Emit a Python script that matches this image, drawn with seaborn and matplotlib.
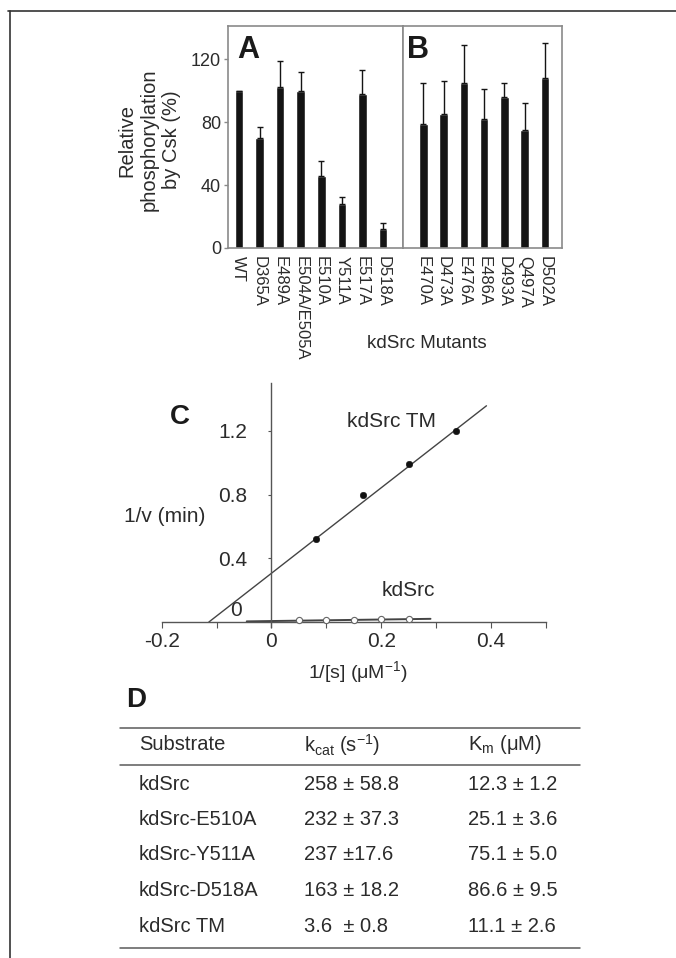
import matplotlib
matplotlib.use("Agg")
import matplotlib.pyplot as plt
import seaborn as sns
import pandas as pd

# Panel A: Csk phosphorylation of kdSrc mutants (%)
mutants_a = ['WT', 'D365A', 'E489A', 'E504A/E505A', 'E510A', 'Y511A', 'E517A', 'D518A']
phos_a = [100, 70, 102, 100, 46, 28, 98, 12]
err_a = [0, 7, 17, 12, 9, 4.5, 15, 4]

# Panel B
mutants_b = ['E470A', 'D473A', 'E476A', 'E486A', 'D493A', 'Q497A', 'D502A']
phos_b = [79, 85, 105, 82, 96, 75, 108]
err_b = [26, 21, 24, 19, 9, 17, 22]

# Panel C: double reciprocal plot
tm_inv_s = [0.082, 0.167, 0.251, 0.336]
tm_inv_v = [0.52, 0.80, 0.99, 1.20]
tm_fit_x = [-0.114, 0.392]
tm_fit_y = [0.0, 1.357]

wt_inv_s = [0.05, 0.10, 0.15, 0.20, 0.25]
wt_inv_v = [0.012, 0.013, 0.015, 0.016, 0.018]
wt_fit_x = [-0.045, 0.29]
wt_fit_y = [0.004, 0.02]

# Panel D: kinetic parameters
substrates = ['kdSrc', 'kdSrc-E510A', 'kdSrc-Y511A', 'kdSrc-D518A', 'kdSrc TM']
kcat = ['258 ± 58.8', '232 ± 37.3', '237 ±17.6', '163 ± 18.2', '3.6  ± 0.8']
km = ['12.3 ± 1.2', '25.1 ± 3.6', '75.1 ± 5.0', '86.6 ± 9.5', '11.1 ± 2.6']

sns.set_theme(style="ticks")
plt.rcParams['font.family'] = ['Liberation Sans', 'DejaVu Sans']
plt.rcParams['mathtext.fontset'] = 'custom'
plt.rcParams['mathtext.rm'] = 'Liberation Sans'
plt.rcParams['mathtext.it'] = 'Liberation Sans:italic'
plt.rcParams['mathtext.bf'] = 'Liberation Sans:bold'

ink = '#2b2b2b'
W, H = 676, 958
fig = plt.figure(figsize=(W / 100, H / 100), dpi=100)


def px_rect(left, top, right, bottom):
    # pixel box -> figure fraction
    return [left / W, 1 - bottom / H, (right - left) / W, (bottom - top) / H]


def bar_panel(ax, names, vals, errs, letter, xlim, letter_x):
    df = pd.DataFrame({'mutant': names, 'phos': vals})
    sns.barplot(data=df, x='mutant', y='phos', color='#141414', saturation=1,
                width=0.42, errorbar=None, ax=ax)
    ax.errorbar(range(len(names)), vals, yerr=[[0] * len(errs), errs], fmt='none',
                ecolor='#141414', elinewidth=1, capsize=2.4, capthick=1)
    ax.set_xlim(*xlim)
    ax.set_ylim(0, 141)
    ax.set_xlabel('')
    ax.set_ylabel('')
    ax.tick_params(axis='x', length=0, pad=6, labelsize=12, colors=ink)
    plt.setp(ax.get_xticklabels(), rotation=270, ha='center', va='top')
    for s in ax.spines.values():
        s.set_color('#8a8a8a')
        s.set_linewidth(1.2)
    ax.text(letter_x, 0.96, letter, transform=ax.transAxes, fontsize=22,
            fontweight='bold', va='top', ha='left', color='#1a1a1a')


ax_a = fig.add_axes(px_rect(228, 26, 403, 248))
ax_b = fig.add_axes(px_rect(403, 26, 562, 248))
bar_panel(ax_a, mutants_a, phos_a, err_a, 'A', (-0.53, 7.97), 0.05)
bar_panel(ax_b, mutants_b, phos_b, err_b, 'B', (-1.0, 6.85), 0.023)

ax_a.set_yticks([0, 40, 80, 120])
ax_a.tick_params(axis='y', length=3, width=1, color='#8a8a8a', labelsize=13,
                 pad=2, colors=ink)
ax_a.set_ylabel('Relative\nphosphorylation\nby Csk (%)', fontsize=14.5, color=ink)
ax_a.yaxis.set_label_coords(-0.27, 0.486)
ax_b.set_yticks([])

fig.text(427 / W, 1 - 343 / H, 'kdSrc Mutants', fontsize=13.5, ha='center',
         va='center', color=ink)

# Panel C
ax_c = fig.add_axes(px_rect(161.7, 383, 545.7, 626.8))
sns.lineplot(x=tm_fit_x, y=tm_fit_y, ax=ax_c, color='#444444', lw=1)
sns.lineplot(x=wt_fit_x, y=wt_fit_y, ax=ax_c, color='#444444', lw=1.4)
sns.scatterplot(x=tm_inv_s, y=tm_inv_v, ax=ax_c, color='#111111', s=22,
                edgecolor='#111111', zorder=3)
sns.scatterplot(x=wt_inv_s, y=wt_inv_v, ax=ax_c, facecolor='white',
                edgecolor='#666666', s=20, linewidth=0.8, zorder=3, clip_on=False)
ax_c.set_xlim(-0.2, 0.5)
ax_c.set_ylim(-0.03, 1.5)
ax_c.spines[['top', 'right']].set_visible(False)
ax_c.spines['left'].set_position(('data', 0))
ax_c.spines['bottom'].set_position(('data', 0))
for s in ('left', 'bottom'):
    ax_c.spines[s].set_color('#555555')
    ax_c.spines[s].set_linewidth(1)
ax_c.set_xticks([-0.2, 0, 0.2, 0.4])
ax_c.set_xticklabels(['-0.2', '0', '0.2', '0.4'])
ax_c.set_xticks([-0.1, 0.1, 0.3, 0.5], minor=True)
ax_c.tick_params(axis='x', which='both', direction='out', length=4, width=0.8,
                 color='#555555', labelsize=15, pad=3, colors=ink)
ax_c.set_yticks([0.4, 0.8, 1.2])
ax_c.tick_params(axis='y', length=2, width=0.8, color='#555555', labelsize=15,
                 pad=15.5, colors=ink)
ax_c.text(-0.054, 0.07, '0', ha='right', va='center', fontsize=15, color=ink)
ax_c.text(0.219, 1.258, 'kdSrc TM', ha='center', va='center', fontsize=15, color=ink)
ax_c.text(0.249, 0.20, 'kdSrc', ha='center', va='center', fontsize=15, color=ink)
ax_c.text(-0.167, 1.288, 'C', ha='center', va='center', fontsize=20,
          fontweight='bold', color='#1a1a1a')
ax_c.text(-0.195, 0.661, '1/v (min)', ha='center', va='center', fontsize=15,
          color=ink, clip_on=False)
ax_c.set_xlabel('')
ax_c.set_ylabel('')
fig.text(358 / W, 1 - 672 / H, r'1/[s] ($\mathrm{\mu}$M$^{\mathrm{-1}}$)', fontsize=14,
         ha='center', va='center', color=ink)

# Panel D: table drawn on a pixel-space overlay
ax_d = fig.add_axes([0, 0, 1, 1], zorder=-1)
ax_d.set_xlim(0, W)
ax_d.set_ylim(H, 0)
ax_d.set_axis_off()
ax_d.text(126, 700, 'D', fontsize=20, fontweight='bold', va='center', ha='left',
          color='#1a1a1a')
for yy in (728, 765, 948):
    ax_d.plot([120, 580], [yy, yy], color='#5a5a5a', lw=1.1)
cols = [139, 304, 468]
headers = ['Substrate', r'k$_{\mathrm{cat}}$ (s$^{\mathrm{-1}}$)',
           r'K$_{\mathrm{m}}$ ($\mathrm{\mu}$M)']
for x, t in zip(cols, headers):
    ax_d.text(x, 745, t, fontsize=14.5, va='center', ha='left', color=ink)
row_y = [784, 819.5, 855, 891, 927]
for yy, s, kc, k in zip(row_y, substrates, kcat, km):
    ax_d.text(cols[0], yy, s, fontsize=14.5, va='center', ha='left', color=ink)
    ax_d.text(cols[1], yy, kc, fontsize=14.5, va='center', ha='left', color=ink)
    ax_d.text(cols[2], yy, k, fontsize=14.5, va='center', ha='left', color=ink)

# outer frame (left and top edges)
ax_d.plot([9.5, 9.5], [10.5, H], color='#333333', lw=1.2)
ax_d.plot([8, W], [10.5, 10.5], color='#333333', lw=1.2)

fig.savefig('out.png', dpi=100)
